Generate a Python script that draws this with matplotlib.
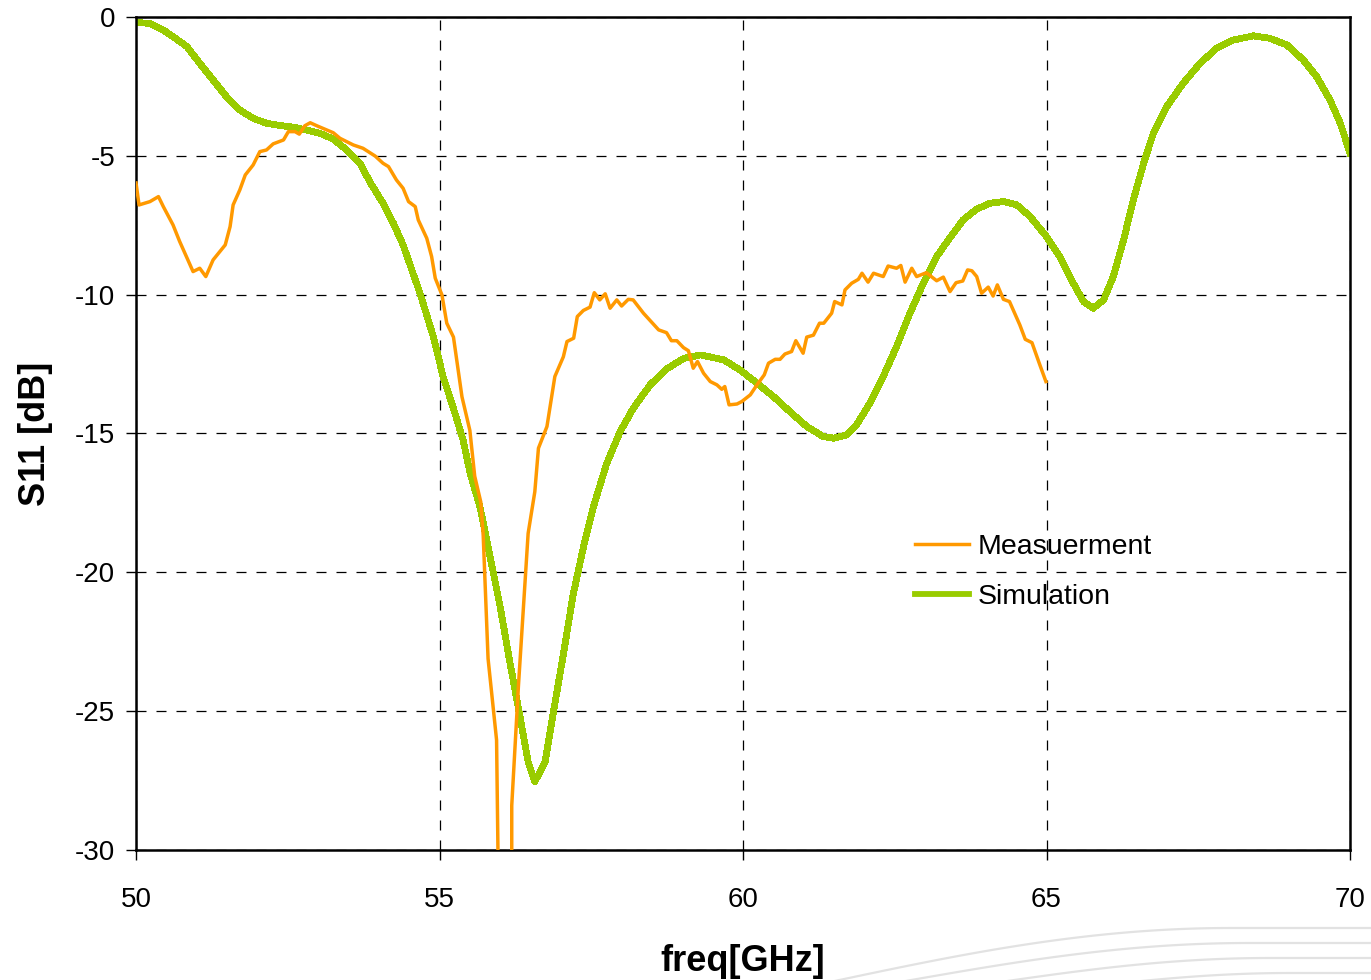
import numpy as np
import matplotlib.pyplot as plt
from matplotlib.lines import Line2D

plt.rcParams['font.family'] = ['Liberation Sans', 'DejaVu Sans']
plt.rcParams['axes.unicode_minus'] = False

# measured S11 (dB) vs frequency (GHz); the deep notch drops below the axis floor
meas_f = [50.00, 50.05, 50.23, 50.37, 50.45, 50.61, 50.72, 50.94, 51.05, 51.15,
          51.27, 51.38, 51.47, 51.55, 51.60, 51.71, 51.80, 51.93, 52.04, 52.15,
          52.26, 52.43, 52.51, 52.62, 52.69, 52.78, 52.87, 52.98, 53.25, 53.36,
          53.58, 53.74, 53.94, 54.07, 54.16, 54.29, 54.40, 54.49, 54.60, 54.65,
          54.79, 54.87, 54.93, 55.04, 55.12, 55.23, 55.37, 55.50, 55.58, 55.68,
          55.72, 55.80, 55.94, 55.98, 56.19, 56.19, 56.30, 56.46, 56.57, 56.63,
          56.77, 56.90, 57.04, 57.10, 57.21, 57.27, 57.37, 57.48, 57.55, 57.64,
          57.73, 57.81, 57.92, 58.00, 58.11, 58.19, 58.36, 58.61, 58.74, 58.82,
          58.91, 59.02, 59.10, 59.18, 59.25, 59.35, 59.46, 59.57, 59.65, 59.70,
          59.77, 59.90, 59.98, 60.12, 60.23, 60.35, 60.42, 60.53, 60.61, 60.69,
          60.80, 60.87, 60.99, 61.05, 61.16, 61.26, 61.33, 61.46, 61.51, 61.63,
          61.68, 61.79, 61.90, 61.96, 62.06, 62.15, 62.31, 62.39, 62.53, 62.60,
          62.67, 62.78, 62.86, 63.02, 63.19, 63.30, 63.41, 63.51, 63.62, 63.70,
          63.77, 63.85, 63.93, 64.04, 64.12, 64.19, 64.29, 64.39, 64.56, 64.65,
          64.76, 64.89, 64.99]
meas_db = [-5.98, -6.77, -6.65, -6.47, -6.83, -7.49, -8.09, -9.17, -9.05, -9.35,
           -8.75, -8.45, -8.21, -7.55, -6.77, -6.23, -5.69, -5.33, -4.85, -4.79,
           -4.57, -4.43, -4.13, -4.13, -4.22, -3.92, -3.81, -3.92, -4.17, -4.37,
           -4.61, -4.73, -5.01, -5.27, -5.39, -5.87, -6.17, -6.65, -6.83, -7.31,
           -7.97, -8.63, -9.41, -10.01, -11.03, -11.53, -13.68, -14.89, -16.54, -17.47,
           -18.68, -23.11, -26.04, -33.0, -33.0, -28.4, -24.1, -18.6, -17.1, -15.53,
           -14.75, -12.95, -12.24, -11.69, -11.57, -10.79, -10.57, -10.45, -9.93, -10.19,
           -9.97, -10.49, -10.19, -10.41, -10.17, -10.19, -10.67, -11.27, -11.37, -11.66,
           -11.66, -11.91, -12.02, -12.65, -12.41, -12.83, -13.13, -13.25, -13.41, -13.31,
           -13.97, -13.94, -13.85, -13.61, -13.25, -12.89, -12.47, -12.33, -12.33, -12.14,
           -12.05, -11.66, -12.11, -11.53, -11.46, -11.03, -11.03, -10.67, -10.25, -10.37,
           -9.83, -9.59, -9.45, -9.23, -9.55, -9.23, -9.35, -8.97, -9.05, -8.95,
           -9.55, -9.05, -9.35, -9.21, -9.50, -9.37, -9.89, -9.57, -9.51, -9.11,
           -9.14, -9.35, -9.95, -9.73, -10.05, -9.65, -10.17, -10.25, -11.09, -11.61,
           -11.73, -12.53, -13.13]

# simulated S11 (dB) vs frequency (GHz)
sim_f = [50.00, 50.23, 50.45, 50.61, 50.84, 51.05, 51.27, 51.49, 51.71, 51.93,
         52.15, 52.37, 52.59, 52.81, 53.03, 53.25, 53.47, 53.69, 53.85, 54.07,
         54.24, 54.40, 54.68, 54.90, 55.06, 55.23, 55.39, 55.50, 55.67, 55.83,
         56.00, 56.16, 56.33, 56.46, 56.57, 56.74, 56.87, 57.04, 57.20, 57.37,
         57.53, 57.75, 57.97, 58.19, 58.47, 58.74, 59.02, 59.30, 59.68, 59.95,
         60.23, 60.50, 60.77, 61.05, 61.32, 61.49, 61.71, 61.87, 62.09, 62.31,
         62.53, 62.75, 62.97, 63.19, 63.41, 63.63, 63.85, 64.07, 64.29, 64.51,
         64.73, 65.00, 65.22, 65.44, 65.61, 65.77, 65.94, 66.10, 66.27, 66.43,
         66.60, 66.76, 66.98, 67.25, 67.53, 67.80, 68.08, 68.41, 68.68, 68.96,
         69.23, 69.45, 69.67, 69.84, 70.00]
sim_db = [-0.20, -0.23, -0.47, -0.71, -1.07, -1.67, -2.27, -2.87, -3.35, -3.65,
          -3.83, -3.91, -3.97, -4.07, -4.19, -4.40, -4.79, -5.27, -5.93, -6.71,
          -7.43, -8.21, -9.96, -11.53, -12.96, -14.10, -15.25, -16.39, -17.68, -19.40,
          -21.25, -23.25, -25.25, -26.83, -27.54, -26.83, -25.11, -22.97, -20.82, -19.11,
          -17.68, -16.11, -14.96, -14.10, -13.25, -12.68, -12.30, -12.17, -12.35, -12.71,
          -13.19, -13.67, -14.21, -14.75, -15.11, -15.17, -15.05, -14.69, -13.91, -12.95,
          -11.87, -10.67, -9.59, -8.63, -7.95, -7.30, -6.92, -6.71, -6.65, -6.77,
          -7.19, -7.91, -8.63, -9.59, -10.25, -10.49, -10.19, -9.35, -8.03, -6.59,
          -5.27, -4.19, -3.23, -2.39, -1.67, -1.13, -0.83, -0.68, -0.77, -1.01,
          -1.55, -2.15, -2.99, -3.83, -4.91]

x_ticks = [50, 55, 60, 65, 70]
y_ticks = [0, -5, -10, -15, -20, -25, -30]

fig = plt.figure(figsize=(13.71, 9.80), dpi=100)
ax = fig.add_axes([0.0992, 0.1327, 0.8855, 0.85])

ax.plot(meas_f, meas_db, color='#FF9900', lw=2.5, label='Measuerment', zorder=3)
ax.plot(sim_f, sim_db, color='#99CC00', lw=4.2, label='Simulation', zorder=2,
        antialiased=False)

ax.set_xlim(50, 70)
ax.set_ylim(-30, 0)
ax.set_xticks(x_ticks)
ax.set_yticks(y_ticks)
ax.tick_params(axis='both', direction='out', length=7, width=1, labelsize=20,
               colors='black')
ax.tick_params(axis='x', pad=20)
ax.tick_params(axis='y', pad=8)
ax.grid(True, color='black', linestyle=(0, (8, 8)), linewidth=0.9)
for s in ax.spines.values():
    s.set_linewidth(1.8)

ax.set_xlabel('freq[GHz]', fontsize=26, fontweight='bold', labelpad=22)
ax.set_ylabel('S11 [dB]', fontsize=26, fontweight='bold', labelpad=16)

ax.legend(loc='center left', bbox_to_anchor=(0.6417, 0.334), frameon=False,
          fontsize=20.5, handlelength=1.9, handletextpad=0.3, labelspacing=0.85,
          borderpad=0, borderaxespad=0)

# faint decorative swooshes in the lower right corner
W, H = 1371.0, 980.0
t = np.linspace(0, 1, 60)
for y_end, y_start, x_start in [(928, 982, 830), (943, 982, 900),
                                (958, 985, 980), (973, 990, 1060)]:
    xs = x_start + (1371 - x_start) * t
    ys = y_start + (y_end - y_start) * np.sin(np.pi * 0.5 * np.minimum(t * 1.35, 1.0))
    fig.add_artist(Line2D(xs / W, 1 - ys / H, color='#e2e2e2', lw=1.6,
                          transform=fig.transFigure, zorder=0))

fig.savefig('out.png', dpi=100)
